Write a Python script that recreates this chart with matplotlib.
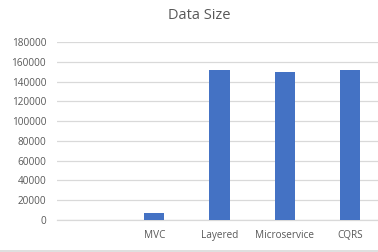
import matplotlib
matplotlib.use("Agg")
import matplotlib.pyplot as plt
from matplotlib.lines import Line2D

categories = ["", "MVC", "Layered", "Microservice", "CQRS"]
sizes = [0, 7000, 151600, 149400, 151600]
yticks = [0, 20000, 40000, 60000, 80000, 100000, 120000, 140000, 160000, 180000]

plt.rcParams['font.family'] = ['Open Sans', 'DejaVu Sans']
txt = '#595959'

fig = plt.figure(figsize=(3.78, 2.52), dpi=100)
ax = fig.add_axes([0.1495, 0.127, 0.8505, 0.706])
x = list(range(len(categories)))
ax.bar(x, sizes, width=0.31, color='#4472C4', zorder=3)

ax.set_xlim(-0.5, 4.43)
ax.set_ylim(0, 180000)
ax.set_yticks(yticks)
ax.set_yticklabels([str(v) for v in yticks])
ax.set_xticks(x)
ax.set_xticklabels(categories)
ax.tick_params(axis='both', length=0, labelsize=7.2, colors=txt)
ax.tick_params(axis='y', pad=7.5)
ax.tick_params(axis='x', pad=7)
ax.grid(axis='y', color='#D9D9D9', linewidth=0.9, zorder=0)
for s in ['top', 'right', 'left']:
    ax.spines[s].set_visible(False)
ax.spines['bottom'].set_color('#D9D9D9')
ax.spines['bottom'].set_linewidth(0.9)

fig.text(0.526, 0.94, "Data Size", ha='center', va='center', fontsize=10.5, color=txt)
fig.add_artist(Line2D([0, 1], [0.005, 0.005], color='#D9D9D9', linewidth=1.2))

fig.savefig("out.png", dpi=100)
